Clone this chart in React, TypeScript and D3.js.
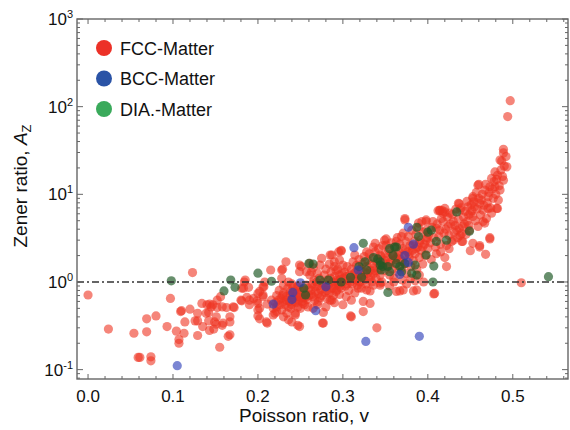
import { useEffect, useRef } from "react";
import * as d3 from "d3";

// [Poisson ratio, Zener ratio]
const fccPoints: [number, number][] = [
    [0.0, 0.71], [0.024, 0.29], [0.054, 0.26], [0.059, 0.138], [0.061, 0.138], [0.069, 0.27], [0.069, 0.38],
    [0.074, 0.14], [0.074, 0.126], [0.08, 0.41], [0.093, 0.31], [0.097, 0.65], [0.104, 0.275], [0.107, 0.22],
    [0.107, 0.2], [0.109, 0.46], [0.11, 0.47], [0.113, 0.26], [0.114, 0.35], [0.12, 0.49], [0.123, 1.28],
    [0.126, 0.36], [0.129, 0.36], [0.129, 0.44], [0.129, 0.245], [0.134, 0.57], [0.135, 0.31], [0.139, 0.44],
    [0.14, 0.55], [0.142, 0.45], [0.142, 0.36], [0.143, 0.56], [0.143, 0.28], [0.145, 0.52], [0.147, 0.55],
    [0.148, 0.29], [0.149, 0.35], [0.151, 0.4], [0.151, 0.33], [0.152, 0.62], [0.152, 0.51], [0.155, 0.18],
    [0.156, 0.68], [0.158, 0.52], [0.158, 0.32], [0.159, 0.34], [0.163, 0.51], [0.165, 0.24], [0.167, 0.35],
    [0.167, 0.4], [0.167, 0.25], [0.171, 0.52], [0.172, 0.51],
    [0.18, 0.62], [0.181, 0.61], [0.181, 0.85], [0.183, 0.85], [0.184, 1.0], [0.185, 1.05], [0.187, 0.67],
    [0.189, 0.87], [0.19, 0.55], [0.19, 0.62], [0.195, 0.65], [0.199, 0.61], [0.2, 0.74], [0.2, 0.57],
    [0.2, 0.48], [0.2, 0.41], [0.202, 0.78], [0.202, 0.5], [0.202, 0.38], [0.206, 0.68], [0.206, 0.71],
    [0.206, 0.88], [0.207, 0.88], [0.208, 1.0], [0.211, 0.34], [0.211, 0.56], [0.21, 0.35],
    [0.215, 1.37], [0.216, 0.62], [0.218, 0.5], [0.218, 0.42], [0.222, 0.46], [0.222, 0.52], [0.22, 0.44],
    [0.224, 0.62], [0.228, 0.48], [0.228, 1.1], [0.228, 1.37], [0.229, 1.4], [0.23, 0.6], [0.23, 0.92],
    [0.23, 0.4], [0.233, 1.7], [0.234, 0.44], [0.236, 1.0], [0.236, 0.52], [0.236, 0.37], [0.238, 0.78],
    [0.24, 0.35], [0.241, 0.88], [0.244, 0.42], [0.244, 0.44], [0.246, 0.74], [0.246, 0.88], [0.247, 0.32],
    [0.249, 0.81], [0.249, 0.31], [0.249, 1.56], [0.249, 1.31], [0.251, 1.5],
    [0.222, 0.7], [0.225, 0.8], [0.227, 0.65], [0.23, 0.75], [0.232, 0.55], [0.233, 0.68], [0.235, 0.85],
    [0.237, 0.6], [0.238, 0.7], [0.24, 0.55], [0.24, 0.95], [0.242, 0.65], [0.243, 0.78], [0.245, 0.58],
    [0.246, 0.68], [0.248, 0.62], [0.248, 0.9], [0.25, 0.72], [0.25, 0.5], [0.252, 0.6], [0.253, 0.82],
    [0.254, 0.66], [0.255, 0.55], [0.256, 0.74], [0.257, 0.92], [0.258, 0.63], [0.259, 0.52], [0.26, 0.7],
    [0.26, 0.85],
    [0.221, 0.58], [0.226, 0.55], [0.229, 0.7], [0.234, 0.62], [0.239, 0.5], [0.241, 0.72], [0.244, 0.6],
    [0.247, 0.52], [0.251, 0.66], [0.253, 0.57], [0.257, 0.68],
    [0.257, 1.31], [0.261, 1.2], [0.261, 1.63], [0.263, 1.31], [0.273, 1.56], [0.275, 1.86], [0.285, 2.03],
    [0.287, 2.03], [0.295, 2.2], [0.298, 2.25], [0.298, 2.3], [0.296, 1.78], [0.3, 1.56], [0.29, 1.5],
    [0.267, 0.62], [0.271, 0.74], [0.277, 0.45], [0.277, 0.34], [0.276, 0.34], [0.285, 0.62], [0.287, 0.62],
    [0.293, 0.81], [0.293, 1.0], [0.296, 1.2],
    [0.262, 0.8], [0.264, 0.95], [0.265, 0.68], [0.266, 1.05], [0.268, 0.78], [0.27, 0.9], [0.271, 0.6],
    [0.272, 1.1], [0.274, 0.82], [0.275, 0.7], [0.276, 0.98], [0.278, 1.2], [0.279, 0.76], [0.28, 0.88],
    [0.281, 0.65], [0.282, 1.05], [0.283, 0.92], [0.284, 0.75], [0.286, 1.3], [0.287, 0.85], [0.288, 1.0],
    [0.289, 0.7], [0.29, 1.15], [0.291, 0.9], [0.292, 0.78], [0.294, 1.4], [0.295, 0.95], [0.296, 0.72],
    [0.297, 1.08], [0.298, 0.85], [0.299, 1.25], [0.3, 0.98],
    [0.263, 0.72], [0.267, 0.88], [0.269, 1.0], [0.273, 0.66], [0.277, 0.9], [0.281, 0.8], [0.285, 1.1],
    [0.289, 0.85], [0.293, 1.05], [0.297, 0.9],
    [0.265, 0.5], [0.27, 0.55], [0.28, 0.52], [0.29, 0.58], [0.3, 0.55],
    [0.265, 1.45], [0.27, 1.25], [0.28, 1.4], [0.284, 1.6], [0.29, 1.7], [0.292, 1.35],
    [0.304, 1.15], [0.304, 0.68], [0.31, 0.4], [0.31, 0.62], [0.309, 0.41], [0.314, 2.03], [0.315, 1.05],
    [0.318, 0.85], [0.324, 0.46], [0.324, 0.6], [0.328, 0.81], [0.328, 2.2], [0.332, 0.79], [0.332, 0.57],
    [0.336, 0.92], [0.336, 2.5], [0.338, 2.76], [0.34, 0.3], [0.344, 0.97], [0.344, 2.03], [0.344, 0.92],
    [0.349, 3.0], [0.351, 3.1], [0.351, 2.64],
    [0.302, 1.3], [0.303, 0.9], [0.305, 1.5], [0.306, 1.05], [0.307, 0.8], [0.308, 1.2], [0.31, 1.4],
    [0.311, 0.95], [0.312, 1.7], [0.313, 1.1], [0.314, 0.75], [0.315, 1.3], [0.316, 1.55], [0.317, 0.92],
    [0.318, 1.2], [0.319, 1.8], [0.32, 1.0], [0.321, 1.4], [0.322, 0.85], [0.323, 1.6], [0.324, 1.15],
    [0.325, 1.95], [0.326, 1.3], [0.327, 0.95], [0.328, 1.5], [0.329, 1.75], [0.33, 1.1], [0.331, 2.1],
    [0.332, 1.35], [0.333, 1.6], [0.334, 1.0], [0.335, 1.85], [0.336, 1.25], [0.337, 1.45], [0.338, 2.2],
    [0.339, 1.1], [0.34, 1.7], [0.341, 1.35], [0.342, 2.4], [0.343, 1.55], [0.344, 1.2], [0.345, 1.95],
    [0.346, 1.0], [0.347, 2.6], [0.348, 1.65], [0.349, 1.35], [0.35, 2.1],
    [0.301, 1.1], [0.305, 0.95], [0.309, 1.0], [0.313, 1.25], [0.317, 1.05], [0.321, 1.2], [0.325, 1.05],
    [0.329, 1.25], [0.333, 1.15], [0.337, 1.35],
    [0.363, 0.78], [0.371, 0.81], [0.367, 0.79], [0.383, 0.79], [0.385, 1.03], [0.387, 0.81], [0.408, 0.74],
    [0.422, 1.5], [0.363, 2.9], [0.369, 3.3], [0.373, 5.1], [0.373, 5.3], [0.389, 4.7], [0.398, 4.9],
    [0.398, 5.1], [0.41, 4.1],
    [0.352, 1.5], [0.353, 1.9], [0.354, 2.3], [0.355, 1.2], [0.356, 1.7], [0.357, 2.8], [0.358, 1.4],
    [0.359, 2.0], [0.36, 1.1], [0.361, 2.5], [0.362, 1.6], [0.363, 1.9], [0.364, 3.2], [0.365, 1.3],
    [0.366, 2.2], [0.367, 2.7], [0.368, 1.8], [0.369, 1.45], [0.37, 2.4], [0.371, 3.6], [0.372, 2.0],
    [0.373, 1.6], [0.374, 2.9], [0.375, 1.25], [0.376, 2.2], [0.377, 3.3], [0.378, 1.9], [0.379, 2.6],
    [0.38, 1.5], [0.381, 3.9], [0.382, 2.3], [0.383, 1.75], [0.384, 2.9], [0.385, 2.1], [0.386, 3.5],
    [0.387, 1.4], [0.388, 2.5], [0.389, 4.2], [0.39, 1.9], [0.391, 3.0], [0.392, 2.3], [0.393, 4.9],
    [0.394, 1.6], [0.395, 3.7], [0.396, 2.7], [0.397, 2.0], [0.398, 3.9], [0.399, 3.2], [0.4, 2.4],
    [0.342, 1.8], [0.346, 1.5], [0.35, 1.75], [0.354, 1.6], [0.358, 2.1], [0.362, 1.8], [0.366, 2.0],
    [0.37, 1.7], [0.374, 2.3], [0.378, 2.1], [0.382, 2.6], [0.386, 2.4], [0.39, 2.8], [0.394, 2.5],
    [0.398, 3.0],
    [0.355, 0.9], [0.36, 1.0], [0.37, 1.05], [0.375, 0.95], [0.38, 1.1], [0.39, 1.2], [0.395, 1.0],
    [0.406, 4.9], [0.414, 3.9], [0.414, 6.5], [0.42, 6.3], [0.426, 6.1], [0.418, 4.9], [0.43, 4.9],
    [0.424, 4.3], [0.434, 3.9], [0.438, 3.4], [0.43, 3.0], [0.44, 2.9], [0.412, 6.5], [0.417, 6.5],
    [0.418, 6.1], [0.414, 6.6], [0.42, 6.9], [0.437, 7.8], [0.436, 7.9], [0.438, 6.6], [0.446, 8.3],
    [0.448, 5.8], [0.446, 4.9], [0.441, 4.3], [0.449, 3.9], [0.441, 2.9], [0.45, 2.27], [0.407, 0.73],
    [0.401, 3.5], [0.403, 2.8], [0.405, 4.2], [0.407, 3.2], [0.409, 2.5], [0.411, 4.6], [0.413, 3.3],
    [0.415, 2.7], [0.416, 5.3], [0.419, 3.6], [0.421, 4.0], [0.422, 2.6], [0.423, 5.5], [0.425, 3.4],
    [0.427, 4.6], [0.428, 2.9], [0.429, 5.9], [0.431, 3.7], [0.432, 4.4], [0.433, 6.8], [0.435, 3.2],
    [0.436, 5.2], [0.437, 4.1], [0.439, 7.0], [0.44, 3.6], [0.442, 5.5], [0.443, 4.6], [0.444, 6.4],
    [0.445, 3.5], [0.447, 7.2], [0.448, 4.4], [0.45, 6.0], [0.404, 1.8], [0.41, 2.1], [0.415, 2.2],
    [0.42, 1.9], [0.425, 2.4],
    [0.451, 7.6], [0.453, 9.0], [0.453, 9.4], [0.453, 5.6], [0.455, 7.2], [0.453, 2.76], [0.459, 12.7],
    [0.459, 4.3], [0.46, 13], [0.461, 7.9], [0.461, 2.5], [0.461, 2.6], [0.463, 8.6], [0.465, 6.6],
    [0.465, 4.9], [0.467, 11.2], [0.467, 4.7], [0.468, 2.07], [0.469, 5.3], [0.471, 9.4], [0.471, 6.9],
    [0.473, 12.2], [0.473, 3.2], [0.473, 3.1], [0.475, 15.2], [0.475, 6.1], [0.479, 18], [0.479, 12.2],
    [0.481, 14.8], [0.481, 6.9], [0.482, 6.9], [0.483, 8.6], [0.485, 24.6], [0.485, 11.2], [0.487, 24],
    [0.489, 32.6], [0.489, 29.7], [0.489, 14.5], [0.492, 27], [0.493, 20.6], [0.494, 77], [0.497, 117],
    [0.452, 6.5], [0.454, 8.2], [0.456, 5.0], [0.457, 10.5], [0.458, 6.8], [0.46, 9.0], [0.462, 5.8],
    [0.464, 10.0], [0.466, 7.5], [0.468, 13.0], [0.47, 8.0], [0.472, 10.5], [0.474, 7.0], [0.476, 11.5],
    [0.477, 9.0], [0.478, 14.0], [0.48, 10.0], [0.482, 16.5], [0.484, 12.5], [0.486, 19.0], [0.488, 16.0],
    [0.49, 21.0],
    [0.51, 0.98],
];

const bccPoints: [number, number][] = [
    [0.105, 0.111], [0.218, 0.56], [0.24, 0.63], [0.241, 0.76], [0.25, 0.98], [0.268, 0.47], [0.28, 0.88],
    [0.313, 2.46], [0.318, 1.37], [0.327, 0.21], [0.367, 1.22], [0.373, 2.0], [0.377, 1.67], [0.377, 4.2],
    [0.383, 2.7], [0.39, 0.24],
];

const diaPoints: [number, number][] = [
    [0.098, 1.03], [0.16, 0.79], [0.168, 1.05], [0.173, 0.87], [0.2, 1.26], [0.216, 1.02], [0.254, 0.85],
    [0.256, 0.71], [0.26, 1.63], [0.265, 1.6], [0.273, 1.05], [0.283, 1.05], [0.298, 1.0], [0.309, 1.13],
    [0.319, 1.5], [0.322, 1.13], [0.324, 2.76], [0.326, 1.7], [0.328, 1.37], [0.336, 1.9], [0.341, 1.83],
    [0.344, 1.56], [0.345, 1.37], [0.347, 1.5], [0.344, 1.7], [0.353, 1.5], [0.353, 0.76], [0.355, 1.31],
    [0.355, 2.4], [0.359, 2.0], [0.361, 2.5], [0.363, 1.63], [0.363, 2.5], [0.367, 1.5], [0.369, 1.31],
    [0.373, 1.63], [0.381, 1.26], [0.385, 1.56], [0.387, 1.2], [0.387, 4.2], [0.389, 3.3], [0.398, 2.03],
    [0.4, 3.7], [0.404, 3.9], [0.406, 1.0], [0.407, 1.52], [0.41, 2.9], [0.422, 3.0], [0.434, 6.3],
    [0.449, 3.8], [0.542, 1.15],
];

const legendNames = ["FCC-Matter", "BCC-Matter", "DIA.-Matter"];
const legendColors = ["#ec3127", "#2a53a6", "#3aaa5b"];
const xTickValues = [0, 0.1, 0.2, 0.3, 0.4, 0.5];
const yTickExponents = [-1, 0, 1, 2, 3];

const FONT = "Liberation Sans, Arial, Helvetica, sans-serif";

const App = () => {
    const chartRef = useRef<SVGSVGElement>(null);

    useEffect(() => {
        const svg = d3.select(chartRef.current);
        svg.selectAll("*").remove();

        const left = 77, right = 568, top = 19, bottom = 379;
        const frameColor = "#666";

        const x = d3.scaleLinear().domain([-0.013, 0.565]).range([left, right]);
        const y = d3.scaleLog().domain([0.0782, 1000]).range([bottom, top]);

        // points
        const drawSeries = (pts: [number, number][], color: string, opacity: number) => {
            svg.append("g")
                .selectAll("circle")
                .data(pts)
                .enter()
                .append("circle")
                .attr("cx", d => x(d[0]))
                .attr("cy", d => y(d[1]))
                .attr("r", 4.6)
                .attr("fill", color)
                .attr("fill-opacity", opacity);
        };
        drawSeries(fccPoints, "#ee3322", 0.6);
        drawSeries(diaPoints, "#1f5a26", 0.68);
        drawSeries(bccPoints, "#2a3cb8", 0.62);

        // A_Z = 1 reference line
        svg.append("line")
            .attr("x1", left)
            .attr("x2", right)
            .attr("y1", y(1))
            .attr("y2", y(1))
            .attr("stroke", "#333")
            .attr("stroke-width", 1.4)
            .attr("stroke-dasharray", "7,3,2,3");

        // frame
        svg.append("rect")
            .attr("x", left)
            .attr("y", top)
            .attr("width", right - left)
            .attr("height", bottom - top)
            .attr("fill", "none")
            .attr("stroke", frameColor)
            .attr("stroke-width", 1.4);

        // x ticks (bottom + top, pointing inward)
        const xMinor = d3.range(0, 0.561, 0.02);
        const ticks = svg.append("g").attr("stroke", frameColor).attr("stroke-width", 1);
        xMinor.forEach(v => {
            const isMajor = Math.abs(Math.round(v * 10) - v * 10) < 1e-6;
            const len = isMajor ? 5 : 3;
            ticks.append("line").attr("x1", x(v)).attr("x2", x(v)).attr("y1", bottom).attr("y2", bottom - len);
            ticks.append("line").attr("x1", x(v)).attr("x2", x(v)).attr("y1", top).attr("y2", top + len);
        });

        // y ticks (left + right, log minors)
        const yMinor: number[] = [];
        for (let e = -2; e <= 2; e++) {
            for (let k = 2; k <= 9; k++) {
                const v = k * Math.pow(10, e);
                if (v > 0.0782 && v < 1000) yMinor.push(v);
            }
        }
        yMinor.forEach(v => {
            ticks.append("line").attr("x1", left).attr("x2", left + 3).attr("y1", y(v)).attr("y2", y(v));
            ticks.append("line").attr("x1", right).attr("x2", right - 3).attr("y1", y(v)).attr("y2", y(v));
        });
        yTickExponents.forEach(e => {
            const v = Math.pow(10, e);
            ticks.append("line").attr("x1", left).attr("x2", left + 6).attr("y1", y(v)).attr("y2", y(v));
            ticks.append("line").attr("x1", right).attr("x2", right - 6).attr("y1", y(v)).attr("y2", y(v));
        });

        // x tick labels
        svg.append("g")
            .selectAll("text")
            .data(xTickValues)
            .enter()
            .append("text")
            .attr("x", d => x(d))
            .attr("y", 402)
            .attr("text-anchor", "middle")
            .style("font-family", FONT)
            .style("font-size", "17px")
            .style("fill", "#111")
            .text(d => d.toFixed(1));

        // y tick labels 10^n
        const yLabels = svg.append("g")
            .selectAll("text")
            .data(yTickExponents)
            .enter()
            .append("text")
            .attr("x", 73)
            .attr("y", d => y(Math.pow(10, d)) + 6)
            .attr("text-anchor", "end")
            .style("font-family", FONT)
            .style("font-size", "17px")
            .style("fill", "#111");
        yLabels.append("tspan").text("10");
        yLabels.append("tspan")
            .attr("dy", -7)
            .style("font-size", "11px")
            .text(d => String(d));

        // axis titles
        svg.append("text")
            .attr("x", 304)
            .attr("y", 422)
            .attr("text-anchor", "middle")
            .style("font-family", FONT)
            .style("font-size", "19px")
            .style("fill", "#111")
            .text("Poisson ratio, v");

        const yTitle = svg.append("text")
            .attr("transform", "translate(27,186) rotate(-90)")
            .attr("text-anchor", "middle")
            .style("font-family", FONT)
            .style("font-size", "19px")
            .style("fill", "#111");
        yTitle.append("tspan").text("Zener ratio, ");
        yTitle.append("tspan").style("font-style", "italic").text("A");
        yTitle.append("tspan").attr("dy", 4).style("font-size", "13px").text("Z");

        // legend
        const legend = svg.append("g");
        legendNames.forEach((name, i) => {
            const cy = 48 + i * 30.5;
            legend.append("circle")
                .attr("cx", 104)
                .attr("cy", cy)
                .attr("r", 8)
                .attr("fill", legendColors[i]);
            legend.append("text")
                .attr("x", 120)
                .attr("y", cy + 6.5)
                .style("font-family", FONT)
                .style("font-size", "18px")
                .style("fill", "#111")
                .text(name);
        });

        return () => {
            d3.select(chartRef.current).selectAll("*").remove();
        };
    }, []);

    return (
        <svg
            ref={chartRef}
            width={570}
            height={430}
            style={{ position: "absolute", left: 0, top: 0, background: "white" }}
        ></svg>
    );
};

export default App;
